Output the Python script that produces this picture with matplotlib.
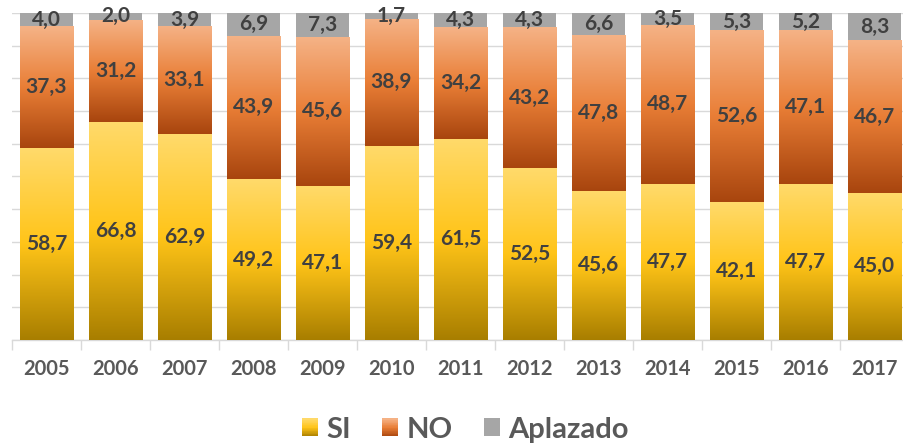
import matplotlib
matplotlib.use("Agg")
import matplotlib.pyplot as plt
import numpy as np
from matplotlib.colors import LinearSegmentedColormap
from matplotlib.patches import Patch, Rectangle
from matplotlib.legend_handler import HandlerBase

years = ["2005", "2006", "2007", "2008", "2009", "2010", "2011", "2012", "2013", "2014", "2015", "2016", "2017"]
si = [58.7, 66.8, 62.9, 49.2, 47.1, 59.4, 61.5, 52.5, 45.6, 47.7, 42.1, 47.7, 45.0]
no = [37.3, 31.2, 33.1, 43.9, 45.6, 38.9, 34.2, 43.2, 47.8, 48.7, 52.6, 47.1, 46.7]
aplazado = [4.0, 2.0, 3.9, 6.9, 7.3, 1.7, 4.3, 4.3, 6.6, 3.5, 5.3, 5.2, 8.3]

plt.rcParams['font.family'] = ['Lato', 'DejaVu Sans']

fig = plt.figure(figsize=(9.04, 4.44), dpi=100)
ax = fig.add_axes([12/904, (444-340)/444, 897/904, 327/444])

x = np.arange(len(years))
w = 0.78
si_cmap = LinearSegmentedColormap.from_list("si", [(0, "#FFDA6B"), (0.5, "#FFC418"), (1, "#A87E00")])
no_cmap = LinearSegmentedColormap.from_list("no", [(0, "#F5B387"), (0.5, "#E97E36"), (1, "#A8450E")])

b1 = ax.bar(x, si, w, color="#FFC000", zorder=2)
bottoms2 = np.array(si)
b2 = ax.bar(x, no, w, bottom=bottoms2, color="#ED7D31", zorder=2)
bottoms3 = bottoms2 + np.array(no)
b3 = ax.bar(x, aplazado, w, bottom=bottoms3, color="#A6A6A6", zorder=2)

grad = np.linspace(0, 1, 256).reshape(-1, 1)
for bars, cmap in ((b1, si_cmap), (b2, no_cmap)):
    for p in bars:
        x0, y0 = p.get_x(), p.get_y()
        x1, y1 = x0 + p.get_width(), y0 + p.get_height()
        im = ax.imshow(grad, cmap=cmap, extent=[x0, x1, y0, y1], aspect='auto',
                       origin='upper', zorder=3, interpolation='bilinear')
        im.set_clip_path(p)

txt_kw = dict(ha='center', va='center', fontsize=15, fontweight='bold', color='#404040', zorder=5)
for i in range(len(years)):
    ax.text(x[i], si[i] / 2, f"{si[i]:.1f}".replace('.', ','), **txt_kw)
    ax.text(x[i], si[i] + no[i] / 2, f"{no[i]:.1f}".replace('.', ','), **txt_kw)
    ax.text(x[i], si[i] + no[i] + aplazado[i] / 2, f"{aplazado[i]:.1f}".replace('.', ','), **txt_kw)

ax.set_xlim(-0.5, len(years) - 0.5)
ax.set_ylim(0, 100)
ax.set_yticks(np.arange(0, 101, 10))
ax.set_yticklabels([])
ax.tick_params(axis='y', length=0)
ax.grid(axis='y', color='#D9D9D9', linewidth=1, zorder=0)
ax.set_axisbelow(True)
for s in ('top', 'right', 'left'):
    ax.spines[s].set_visible(False)
ax.spines['bottom'].set_color('#D9D9D9')
ax.spines['bottom'].set_linewidth(1)
ax.set_xticks(x)
ax.set_xticklabels(years, fontsize=14.5, fontweight='bold', color='#595959')
ax.tick_params(axis='x', which='major', length=0, pad=14)
ax.set_xticks(np.arange(-0.5, len(years), 1), minor=True)
ax.tick_params(axis='x', which='minor', length=7, color='#D9D9D9', width=1)


class GradHandler(HandlerBase):
    def __init__(self, cmap=None, color=None):
        super().__init__()
        self.cmap = cmap
        self.color = color

    def create_artists(self, legend, orig_handle, xdescent, ydescent, width, height, fontsize, trans):
        n = 24
        arts = []
        for k in range(n):
            c = self.cmap(1 - (k + 0.5) / n) if self.cmap is not None else self.color
            r = Rectangle((-xdescent, -ydescent + height * k / n), width, height / n + 0.3,
                          facecolor=c, edgecolor='none', transform=trans)
            arts.append(r)
        return arts


h1 = Patch(facecolor="#FFC000")
h2 = Patch(facecolor="#ED7D31")
h3 = Patch(facecolor="#A6A6A6")
leg = fig.legend([h1, h2, h3], ["SI", "NO", "Aplazado"], loc='center', bbox_to_anchor=(0.515, 1 - 430/444),
                 ncol=3, frameon=False, handlelength=0.55, handleheight=0.55, handletextpad=0.28,
                 columnspacing=1.07, prop={'size': 21, 'weight': 'bold'},
                 handler_map={h1: GradHandler(cmap=si_cmap), h2: GradHandler(cmap=no_cmap),
                              h3: GradHandler(color="#A6A6A6")})
for t in leg.get_texts():
    t.set_color('#595959')

fig.savefig("out.png", dpi=100)
